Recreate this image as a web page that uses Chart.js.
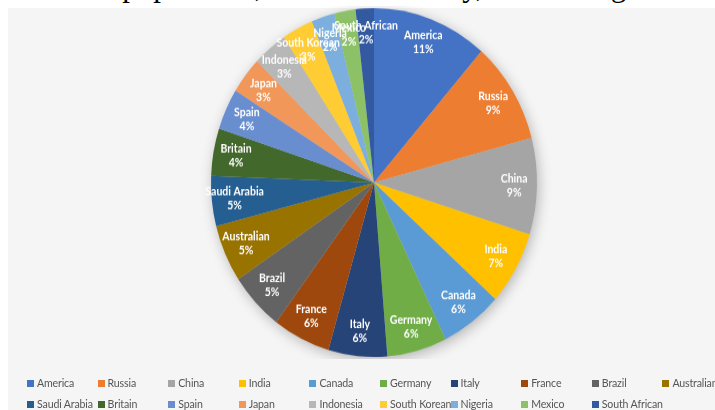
<!DOCTYPE html>
<html>
<head>
<meta charset="utf-8">
<script src="https://cdn.jsdelivr.net/npm/chart.js@4/dist/chart.umd.min.js"></script>
<style>
  html, body { margin: 0; padding: 0; width: 715px; height: 410px; overflow: hidden; background: #ffffff; position: relative; }
  #lead { position: absolute; left: 24px; top: -30px; font: 31px/31px "Liberation Serif", "Times New Roman", serif; color: #000; white-space: nowrap; }
  #panel { position: absolute; left: 8px; top: 8px; width: 707px; height: 402px; background: #f5f5f5; }
  #pieBox { position: absolute; left: 174px; top: 6.4px; width: 400px; height: 330px; transform: scaleY(1.07); transform-origin: 0 0; }
  #legend { position: absolute; left: 0; top: 0; width: 715px; height: 410px; pointer-events: none; }
  .item { position: absolute; font: 10.6px/14px Lato, "Noto Sans", sans-serif; letter-spacing: -0.15px; color: #555555; white-space: nowrap; }
  .item i { display: inline-block; width: 7px; height: 7px; margin-right: 3px; vertical-align: 0px; }
</style>
</head>
<body>
<div id="lead">such as population, overall economy, and average dev</div>
<div id="panel"></div>
<div id="pieBox"><canvas id="pie"></canvas></div>
<div id="legend"></div>
<script>
// Countries and their shares (percent of the total)
const countries = ['America', 'Russia', 'China', 'India', 'Canada', 'Germany', 'Italy', 'France', 'Brazil', 'Australian',
                   'Saudi Arabia', 'Britain', 'Spain', 'Japan', 'Indonesia', 'South Korean', 'Nigeria', 'Mexico', 'South African'];
const shares = [11.4, 9.4, 8.9, 6.8, 6.1, 5.9, 5.8, 5.7, 5.4, 5.3,
                4.6, 4.4, 3.8, 3.4, 3.4, 3.1, 2.3, 2.1, 1.8];
const sliceColors = ['#4472C4', '#ED7D31', '#A5A5A5', '#FFC000', '#5B9BD5', '#70AD47', '#264478', '#9E480E', '#636363', '#997300',
                     '#255E91', '#43682B', '#698ED0', '#F1975A', '#B7B7B7', '#FFCD33', '#7CAFDD', '#8CC168', '#335AA1'];

// Soft drop shadow underneath the whole pie
const pieShadow = {
  id: 'pieShadow',
  beforeDatasetsDraw(chart) {
    const arc = chart.getDatasetMeta(0).data[0];
    if (!arc) return;
    const ctx = chart.ctx;
    ctx.save();
    ctx.shadowColor = 'rgba(0,0,0,0.3)';
    ctx.shadowBlur = 14;
    ctx.shadowOffsetX = 2;
    ctx.shadowOffsetY = 3;
    ctx.fillStyle = '#cccccc';
    ctx.beginPath();
    ctx.arc(arc.x, arc.y, arc.outerRadius - 1, 0, Math.PI * 2);
    ctx.fill();
    ctx.restore();
  }
};

// Category name and percentage written inside the outer end of each slice
const sliceLabels = {
  id: 'sliceLabels',
  afterDatasetsDraw(chart) {
    const ds = chart.data.datasets[0];
    const total = ds.data.reduce((a, b) => a + b, 0);
    const ctx = chart.ctx;
    ctx.save();
    ctx.fillStyle = '#ffffff';
    ctx.font = 'bold 10.5px Lato, "Noto Sans", sans-serif';
    ctx.textAlign = 'center';
    ctx.textBaseline = 'middle';
    chart.getDatasetMeta(0).data.forEach((arc, i) => {
      const mid = (arc.startAngle + arc.endAngle) / 2;
      const r = arc.outerRadius * 0.86;
      const x = arc.x + Math.cos(mid) * r;
      const y = arc.y + Math.sin(mid) * r;
      ctx.fillText(chart.data.labels[i], x, y - 6.5);
      ctx.fillText(Math.round(ds.data[i] / total * 100) + '%', x, y + 6.5);
    });
    ctx.restore();
  }
};

// Legend laid out as a fixed grid of ten columns under the chart
const gridLegend = {
  id: 'gridLegend',
  afterUpdate(chart) {
    const box = document.getElementById('legend');
    box.innerHTML = '';
    const colors = chart.data.datasets[0].backgroundColor;
    chart.data.labels.forEach((name, i) => {
      const el = document.createElement('div');
      el.className = 'item';
      el.style.left = (27 + 70.6 * (i % 10)) + 'px';
      el.style.top = (376 + 21 * Math.floor(i / 10)) + 'px';
      const sw = document.createElement('i');
      sw.style.background = colors[i];
      el.appendChild(sw);
      el.appendChild(document.createTextNode(name));
      box.appendChild(el);
    });
  }
};

new Chart(document.getElementById('pie'), {
  type: 'pie',
  data: {
    labels: countries,
    datasets: [{ data: shares, backgroundColor: sliceColors, borderWidth: 0 }]
  },
  options: {
    responsive: true,
    maintainAspectRatio: false,
    animation: false,
    layout: { padding: 2 },
    plugins: { legend: { display: false }, tooltip: { enabled: false } }
  },
  plugins: [pieShadow, sliceLabels, gridLegend]
});
</script>
</body>
</html>
